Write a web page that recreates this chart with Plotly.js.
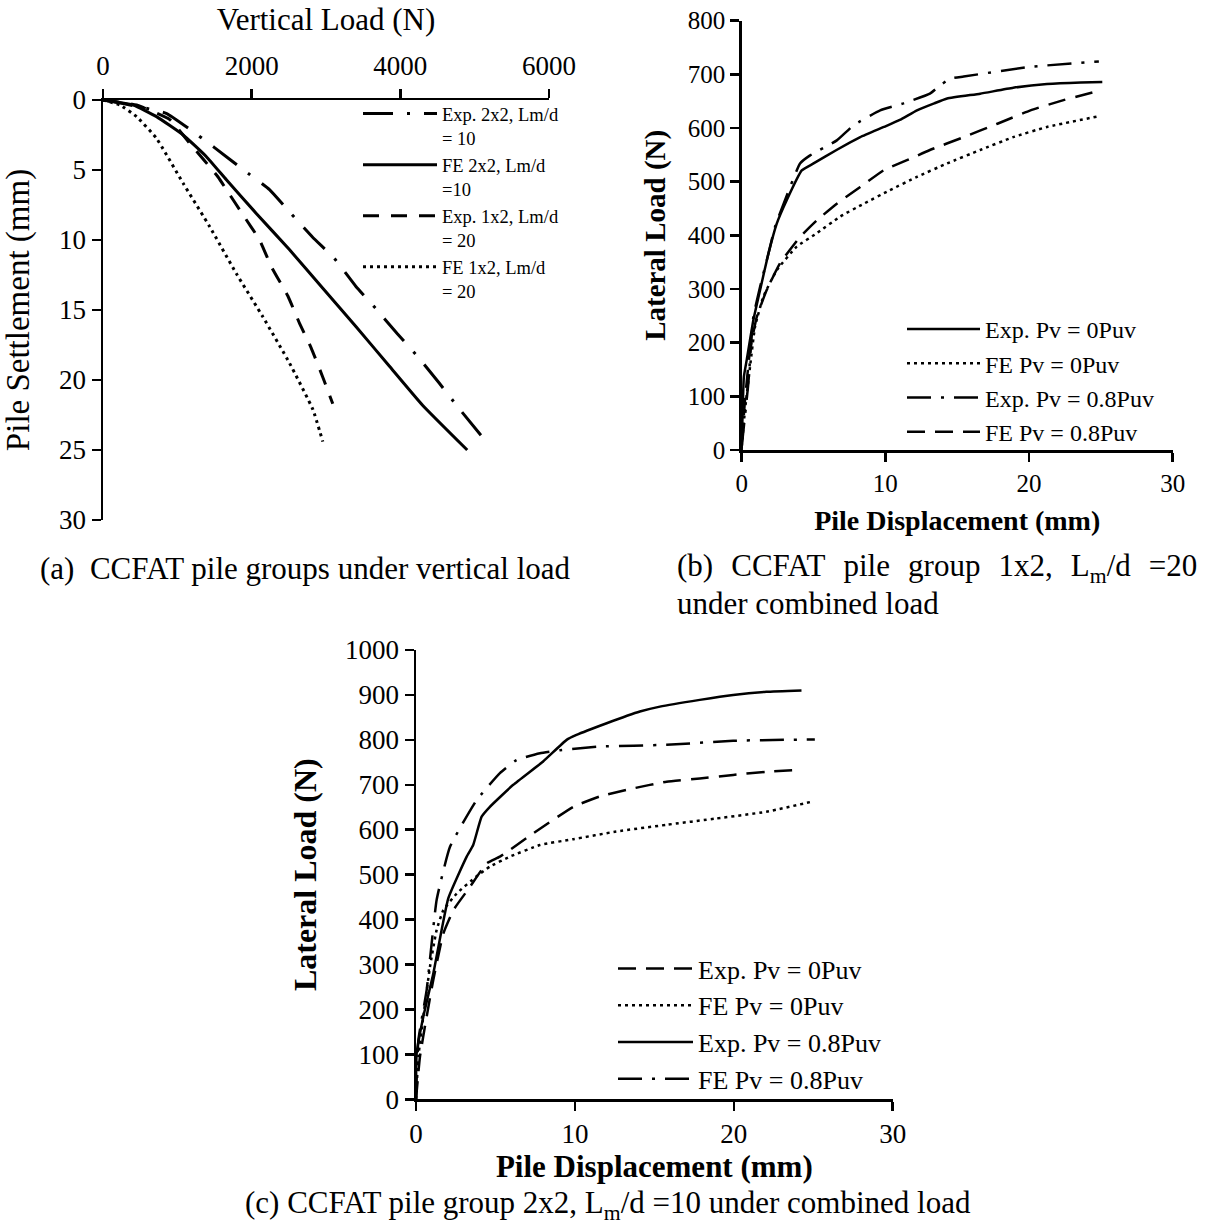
<!DOCTYPE html>
<html>
<head>
<meta charset="utf-8">
<script src="https://cdn.plot.ly/plotly-3.0.1.min.js"></script>
<style>html,body{margin:0;padding:0;background:#fff;}#chart{width:1217px;height:1225px;}</style>
</head>
<body>
<div id="chart"></div>
<script>
// ---------- (a) vertical load vs settlement ----------
const aExp22X = [0, 270, 850, 1170, 1500, 1880, 2240, 2510, 2820, 3110, 3400, 3670, 3960, 4230, 4520, 4770, 5170];
const aExp22Y = [0, 0.25, 0.95, 2.1, 3.4, 4.95, 6.4, 8.0, 9.8, 11.3, 13.3, 14.9, 16.7, 18.3, 20.2, 21.9, 24.5];
const aFe22X = [0, 407, 720, 1078, 1391, 1660, 2062, 2510, 2957, 3405, 3851, 4299, 4900];
const aFe22Y = [0, 0.36, 1.19, 2.5, 4.05, 5.7, 8.1, 10.7, 13.45, 16.2, 19.0, 21.8, 25.0];
const aExp12X = [0, 452, 899, 1168, 1548, 1660, 1883, 2107, 2264, 2487, 2644, 2800, 2957, 3091];
const aExp12Y = [0, 0.36, 1.4, 3.1, 5.5, 6.4, 8.2, 10.0, 11.9, 14.0, 15.95, 17.7, 19.8, 21.7];
const aFe12X = [0, 228, 452, 720, 1078, 1436, 1794, 2152, 2510, 2823, 2957];
const aFe12Y = [0, 0.36, 1.19, 2.74, 5.95, 9.05, 12.4, 15.5, 18.8, 22.1, 24.4];
const aNames = ["Exp. 2x2, Lm/d<br>= 10", "FE 2x2, Lm/d<br>=10", "Exp. 1x2, Lm/d<br>= 20", "FE 1x2, Lm/d<br>= 20"];

// ---------- (b) pile group 1x2 ----------
const bExp0X = [0, 0.15, 0.35, 0.81, 1.28, 1.86, 2.44, 3.14, 4.18, 5.0, 6.6, 8.25, 9.9, 11.0, 12.2, 13.4, 14.3, 16.6, 18.9, 21.25, 23.6, 25.1];
const bExp0Y = [0, 136, 168, 242, 298, 366, 422, 466, 521, 534, 559, 583, 602, 615, 633, 646, 655, 664, 675, 682, 685, 686];
const bFe0X = [0, 0.23, 0.58, 0.93, 1.51, 2.44, 3.83, 5.23, 6.85, 8.5, 10.3, 12.2, 14.3, 16.6, 18.9, 21.25, 24.86];
const bFe0Y = [6, 75, 155, 230, 286, 335, 379, 404, 435, 459, 484, 509, 534, 559, 583, 602, 622];
const bExp08X = [0, 0.46, 0.81, 1.28, 1.86, 2.32, 3.02, 4.06, 4.76, 6.62, 7.78, 9.64, 11.27, 13.1, 13.7, 14.5, 15.45, 20.1, 24.86];
const bExp08Y = [6, 124, 248, 304, 366, 416, 466, 534, 549, 577, 605, 633, 646, 664, 677, 692, 696, 714, 724];
const bFe08X = [0, 0.23, 0.58, 1.05, 1.74, 2.67, 4.06, 5.23, 6.62, 8.25, 9.87, 11.5, 13.1, 15.45, 17.8, 20.1, 22.4, 24.97];
const bFe08Y = [12, 93, 186, 248, 298, 348, 397, 428, 459, 490, 521, 540, 559, 583, 608, 633, 652, 670];

// ---------- (c) pile group 2x2 ----------
const cExp0X = [0, 0.25, 0.67, 1.09, 1.72, 2.35, 3.4, 4.44, 5.28, 7.38, 9.9, 11.57, 13.67, 15.77, 17.86, 19.96, 22.05, 24.05];
const cExp0Y = [0, 95, 184, 266, 369, 421, 473, 525, 540, 592, 651, 674, 692, 707, 714, 722, 729, 733];
const cFe0X = [0, 0.15, 0.46, 0.88, 1.3, 1.72, 2.56, 3.8, 4.65, 5.9, 7.8, 9.9, 12.6, 15.77, 18.9, 22.05, 24.99];
const cFe0Y = [0, 95, 184, 295, 377, 421, 458, 496, 518, 540, 566, 579, 596, 611, 625, 640, 663];
const cExp08X = [0, 0.04, 0.46, 1.09, 2.03, 3.19, 3.6, 4.13, 4.65, 6.12, 8.0, 9.48, 10.1, 12.0, 14.09, 15.35, 17.86, 19.96, 22.05, 24.26];
const cExp08Y = [0, 102, 184, 280, 447, 540, 566, 629, 651, 700, 752, 800, 811, 837, 863, 874, 889, 900, 907, 910];
const cFe08X = [0, 0.15, 0.67, 1.3, 2.14, 3.82, 5.28, 6.33, 7.8, 9.06, 11.57, 15.77, 19.96, 25.1];
const cFe08Y = [0, 132, 243, 444, 562, 666, 726, 755, 770, 777, 785, 789, 798, 801];

const bcNames = ["Exp. Pv = 0Puv", "FE Pv = 0Puv", "Exp. Pv = 0.8Puv", "FE Pv = 0.8Puv"];

const W = 1217, H = 1225;
const px = v => v / W;
const py = v => 1 - v / H;
const FONT = "Liberation Serif, Times New Roman, serif";
const GAP = "\u00A0\u200A ";

const DASHDOT_A = "30px,14px,3px,14px";
const DASH_A = "16px,12px";
const DOT = "3px,4px";
const DASHDOT = "24px,10px,3px,10px";
const DASH = "18px,10px";

function tr(x, y, name, dash, w, xa, ya, lg) {
  return {x: x, y: y, name: name, type: "scatter", mode: "lines",
    line: {color: "#000", width: w, dash: dash, shape: "spline", smoothing: 0.4},
    xaxis: xa, yaxis: ya, legend: lg, hoverinfo: "skip"};
}

const data = [
  tr(aExp22X, aExp22Y, aNames[0], DASHDOT_A, 3, "x", "y", "legend"),
  tr(aFe22X, aFe22Y, aNames[1], "solid", 3, "x", "y", "legend"),
  tr(aExp12X, aExp12Y, aNames[2], DASH_A, 3, "x", "y", "legend"),
  tr(aFe12X, aFe12Y, aNames[3], DOT, 3, "x", "y", "legend"),
  tr(bExp0X, bExp0Y, bcNames[0], "solid", 2.5, "x2", "y2", "legend2"),
  tr(bFe0X, bFe0Y, bcNames[1], DOT, 2.5, "x2", "y2", "legend2"),
  tr(bExp08X, bExp08Y, bcNames[2], DASHDOT, 2.5, "x2", "y2", "legend2"),
  tr(bFe08X, bFe08Y, bcNames[3], DASH, 2.5, "x2", "y2", "legend2"),
  tr(cExp0X, cExp0Y, bcNames[0], DASH, 2.5, "x3", "y3", "legend3"),
  tr(cFe0X, cFe0Y, bcNames[1], DOT, 2.5, "x3", "y3", "legend3"),
  tr(cExp08X, cExp08Y, bcNames[2], "solid", 2.5, "x3", "y3", "legend3"),
  tr(cFe08X, cFe08Y, bcNames[3], DASHDOT, 2.5, "x3", "y3", "legend3")
];

function ax(o) {
  return Object.assign({
    showline: true, linecolor: "#000", linewidth: 2.5, mirror: false,
    showgrid: false, zeroline: false, ticks: "outside", ticklen: 9, tickwidth: 2.5, tickcolor: "#000",
    tickfont: {family: FONT, size: 25, color: "#000"}, autorange: false, fixedrange: true
  }, o);
}

const layout = {
  width: W, height: H, margin: {l: 0, r: 0, t: 0, b: 0},
  paper_bgcolor: "#fff", plot_bgcolor: "rgba(0,0,0,0)",
  font: {family: FONT, color: "#000"},
  showlegend: true,
  xaxis: ax({domain: [px(103), px(549)], range: [0, 6000], dtick: 2000, side: "top", anchor: "y",
    tickfont: {family: FONT, size: 27, color: "#000"}, ticklabelstandoff: 3,
    title: {text: "Vertical Load (N)", standoff: 11, font: {family: FONT, size: 31, color: "#000"}}}),
  yaxis: ax({domain: [py(520), py(100)], range: [30, 0], dtick: 5, anchor: "x",
    tickfont: {family: FONT, size: 27, color: "#000"},
    title: {text: "Pile Settlement (mm)", font: {family: FONT, size: 33, color: "#000"}}}),
  xaxis2: ax({domain: [px(741.7), px(1172.7)], range: [0, 30], dtick: 10, anchor: "y2",
    title: {text: "<b>Pile Displacement (mm)</b>", standoff: 15, font: {family: FONT, size: 28, color: "#000"}}}),
  yaxis2: ax({domain: [py(450), py(20.7)], range: [0, 800], dtick: 100, anchor: "x2",
    title: {text: "<b>Lateral Load (N)</b>", standoff: 14, font: {family: FONT, size: 29, color: "#000"}}}),
  xaxis3: ax({domain: [px(416), px(892.7)], range: [0, 30], dtick: 10, anchor: "y3",
    tickfont: {family: FONT, size: 27, color: "#000"},
    title: {text: "<b>Pile Displacement (mm)</b>", standoff: 2, font: {family: FONT, size: 31, color: "#000"}}}),
  yaxis3: ax({domain: [py(1099.3), py(650)], range: [0, 1000], dtick: 100, anchor: "x3",
    tickfont: {family: FONT, size: 27, color: "#000"},
    title: {text: "<b>Lateral Load (N)</b>", standoff: 19, font: {family: FONT, size: 32, color: "#000"}}}),
  legend: {x: px(358), y: py(95), xanchor: "left", yanchor: "top", bgcolor: "rgba(0,0,0,0)",
    borderwidth: 0, itemwidth: 74, valign: "top", traceorder: "normal",
    font: {family: FONT, size: 18.5, color: "#000"}},
  legend2: {x: px(902), y: py(307), xanchor: "left", yanchor: "top", bgcolor: "rgba(0,0,0,0)",
    borderwidth: 0, itemwidth: 73, traceorder: "normal",
    font: {family: FONT, size: 24, color: "#000"}},
  legend3: {x: px(613), y: py(945), xanchor: "left", yanchor: "top", bgcolor: "rgba(0,0,0,0)",
    borderwidth: 0, itemwidth: 75, traceorder: "normal",
    font: {family: FONT, size: 26, color: "#000"}},
  annotations: [
    {text: "(a)\u00A0\u00A0CCFAT pile groups under vertical load", x: px(38), y: py(568), xref: "paper", yref: "paper",
      xanchor: "left", yanchor: "middle", showarrow: false, font: {family: FONT, size: 31, color: "#000"}},
    {text: "(b)" + GAP + "CCFAT" + GAP + "pile" + GAP + "group" + GAP + "1x2," + GAP + "L<sub>m</sub>/d" + GAP + "=20",
      x: px(675), y: py(568), xref: "paper", yref: "paper",
      xanchor: "left", yanchor: "middle", showarrow: false, font: {family: FONT, size: 31, color: "#000"}},
    {text: "under combined load", x: px(675), y: py(604), xref: "paper", yref: "paper",
      xanchor: "left", yanchor: "middle", showarrow: false, font: {family: FONT, size: 31, color: "#000"}},
    {text: "(c) CCFAT pile group 2x2, L<sub>m</sub>/d =10 under combined load", x: px(608), y: py(1205), xref: "paper", yref: "paper",
      xanchor: "center", yanchor: "middle", showarrow: false, font: {family: FONT, size: 31, color: "#000"}}
  ]
};

Plotly.newPlot("chart", data, layout, {staticPlot: true, displayModeBar: false});
</script>
</body>
</html>
